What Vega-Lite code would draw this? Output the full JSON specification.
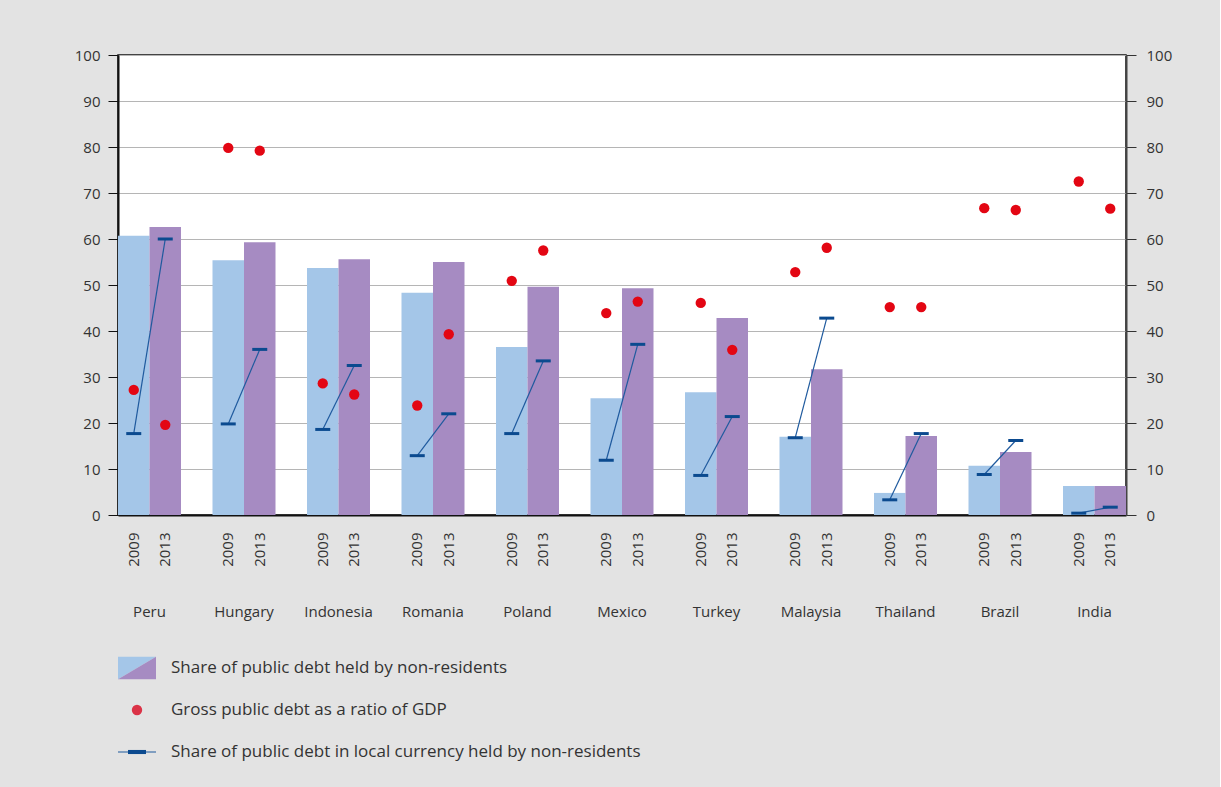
{
  "$schema": "https://vega.github.io/schema/vega-lite/v6.json",
  "background": "#e3e3e3",
  "padding": {"left": 73, "top": 47, "right": 47, "bottom": 20},
  "config": {"font": "Open Sans", "axis": {"labelFont": "Open Sans", "labelColor": "#333333", "labelFontSize": 15}},
  "spacing": 27,
  "vconcat": [
    {
      "width": 1008,
      "height": 460,
      "view": {"stroke": "#111111", "strokeWidth": 1.5, "fill": "#ffffff"},
      "data": {"values": [
        {"country": "Peru", "year": "2009", "share": 60.7, "gdp": 27.2, "local": 17.7},
        {"country": "Peru", "year": "2013", "share": 62.6, "gdp": 19.6, "local": 60.0},
        {"country": "Hungary", "year": "2009", "share": 55.4, "gdp": 79.8, "local": 19.8},
        {"country": "Hungary", "year": "2013", "share": 59.3, "gdp": 79.2, "local": 36.0},
        {"country": "Indonesia", "year": "2009", "share": 53.7, "gdp": 28.6, "local": 18.6},
        {"country": "Indonesia", "year": "2013", "share": 55.6, "gdp": 26.2, "local": 32.5},
        {"country": "Romania", "year": "2009", "share": 48.3, "gdp": 23.8, "local": 12.9},
        {"country": "Romania", "year": "2013", "share": 55.0, "gdp": 39.3, "local": 22.0},
        {"country": "Poland", "year": "2009", "share": 36.5, "gdp": 50.9, "local": 17.7},
        {"country": "Poland", "year": "2013", "share": 49.6, "gdp": 57.5, "local": 33.5},
        {"country": "Mexico", "year": "2009", "share": 25.4, "gdp": 43.9, "local": 11.9},
        {"country": "Mexico", "year": "2013", "share": 49.3, "gdp": 46.4, "local": 37.1},
        {"country": "Turkey", "year": "2009", "share": 26.7, "gdp": 46.1, "local": 8.6},
        {"country": "Turkey", "year": "2013", "share": 42.8, "gdp": 35.9, "local": 21.4},
        {"country": "Malaysia", "year": "2009", "share": 17.0, "gdp": 52.8, "local": 16.8},
        {"country": "Malaysia", "year": "2013", "share": 31.7, "gdp": 58.1, "local": 42.8},
        {"country": "Thailand", "year": "2009", "share": 4.8, "gdp": 45.2, "local": 3.3},
        {"country": "Thailand", "year": "2013", "share": 17.2, "gdp": 45.2, "local": 17.7},
        {"country": "Brazil", "year": "2009", "share": 10.7, "gdp": 66.7, "local": 8.8},
        {"country": "Brazil", "year": "2013", "share": 13.7, "gdp": 66.3, "local": 16.2},
        {"country": "India", "year": "2009", "share": 6.3, "gdp": 72.5, "local": 0.4},
        {"country": "India", "year": "2013", "share": 6.3, "gdp": 66.6, "local": 1.7}
      ]},
      "transform": [{"calculate": "datum.country + '|' + datum.year", "as": "slot"}],
      "layer": [
        {
          "mark": {"type": "bar"},
          "encoding": {
            "x": {"field": "slot", "type": "nominal", "sort": null,
              "scale": {"type": "band", "domain": ["Peru|2009","Peru|2013","g1","Hungary|2009","Hungary|2013","g2","Indonesia|2009","Indonesia|2013","g3","Romania|2009","Romania|2013","g4","Poland|2009","Poland|2013","g5","Mexico|2009","Mexico|2013","g6","Turkey|2009","Turkey|2013","g7","Malaysia|2009","Malaysia|2013","g8","Thailand|2009","Thailand|2013","g9","Brazil|2009","Brazil|2013","g10","India|2009","India|2013"], "paddingInner": 0, "paddingOuter": 0},
              "axis": {"orient": "bottom", "title": null, "labelExpr": "indexof(datum.value, '|') >= 0 ? split(datum.value, '|')[1] : ''", "labelAngle": 270, "ticks": false, "tickSize": 0, "labelPadding": 17, "domain": true, "domainColor": "#111111", "domainWidth": 2, "grid": false, "labelOverlap": false}},
            "y": {"field": "share", "type": "quantitative",
              "scale": {"domain": [0, 100], "nice": false},
              "axis": {"orient": "left", "title": null, "values": [0,10,20,30,40,50,60,70,80,90,100], "grid": true, "gridColor": "#b5b5b5", "gridWidth": 1, "tickSize": 10, "tickColor": "#111111", "domainColor": "#111111", "domainWidth": 2, "labelPadding": 8}},
            "color": {"field": "year", "type": "nominal", "scale": {"domain": ["2009", "2013"], "range": ["#a4c6e8", "#a68bc2"]}, "legend": null}
          }
        },
        {
          "mark": {"type": "line", "color": "#1f5a9e", "strokeWidth": 1.2},
          "encoding": {
            "x": {"field": "slot", "type": "nominal", "sort": null,
              "scale": {"type": "band", "domain": ["Peru|2009","Peru|2013","g1","Hungary|2009","Hungary|2013","g2","Indonesia|2009","Indonesia|2013","g3","Romania|2009","Romania|2013","g4","Poland|2009","Poland|2013","g5","Mexico|2009","Mexico|2013","g6","Turkey|2009","Turkey|2013","g7","Malaysia|2009","Malaysia|2013","g8","Thailand|2009","Thailand|2013","g9","Brazil|2009","Brazil|2013","g10","India|2009","India|2013"], "paddingInner": 0, "paddingOuter": 0},
              "axis": null},
            "y": {"field": "local", "type": "quantitative", "scale": {"domain": [0, 100], "nice": false}, "axis": null},
            "detail": {"field": "country", "type": "nominal"}
          }
        },
        {
          "mark": {"type": "tick", "color": "#0b4a8f", "size": 15, "thickness": 3, "opacity": 1},
          "encoding": {
            "x": {"field": "slot", "type": "nominal", "sort": null,
              "scale": {"type": "band", "domain": ["Peru|2009","Peru|2013","g1","Hungary|2009","Hungary|2013","g2","Indonesia|2009","Indonesia|2013","g3","Romania|2009","Romania|2013","g4","Poland|2009","Poland|2013","g5","Mexico|2009","Mexico|2013","g6","Turkey|2009","Turkey|2013","g7","Malaysia|2009","Malaysia|2013","g8","Thailand|2009","Thailand|2013","g9","Brazil|2009","Brazil|2013","g10","India|2009","India|2013"], "paddingInner": 0, "paddingOuter": 0},
              "axis": null},
            "y": {"field": "local", "type": "quantitative", "scale": {"domain": [0, 100], "nice": false}, "axis": null}
          }
        },
        {
          "mark": {"type": "circle", "color": "#e30613", "size": 107, "opacity": 1},
          "encoding": {
            "x": {"field": "slot", "type": "nominal", "sort": null,
              "scale": {"type": "band", "domain": ["Peru|2009","Peru|2013","g1","Hungary|2009","Hungary|2013","g2","Indonesia|2009","Indonesia|2013","g3","Romania|2009","Romania|2013","g4","Poland|2009","Poland|2013","g5","Mexico|2009","Mexico|2013","g6","Turkey|2009","Turkey|2013","g7","Malaysia|2009","Malaysia|2013","g8","Thailand|2009","Thailand|2013","g9","Brazil|2009","Brazil|2013","g10","India|2009","India|2013"], "paddingInner": 0, "paddingOuter": 0},
              "axis": null},
            "y": {"field": "gdp", "type": "quantitative", "scale": {"domain": [0, 100], "nice": false},
              "axis": {"orient": "right", "title": null, "values": [0,10,20,30,40,50,60,70,80,90,100], "grid": false, "tickSize": 10, "tickColor": "#333333", "domainColor": "#444444", "domainWidth": 2, "labelPadding": 10}}
          }
        },
        {
          "mark": {"type": "bar", "opacity": 0},
          "encoding": {
            "x": {"field": "country", "type": "nominal", "sort": null,
              "scale": {"type": "band", "domain": ["Peru","Hungary","Indonesia","Romania","Poland","Mexico","Turkey","Malaysia","Thailand","Brazil","India"], "paddingInner": 0.3333333, "paddingOuter": 0},
              "axis": {"orient": "bottom", "title": null, "labelAngle": 0, "ticks": false, "tickSize": 0, "domain": false, "grid": false, "labelPadding": 89}}
          }
        }
      ],
      "resolve": {"scale": {"x": "independent", "y": "independent"}, "axis": {"x": "independent", "y": "independent"}}
    },
    {
      "width": 600,
      "height": 126,
      "view": {"stroke": null},
      "layer": [
        {
          "data": {"values": [{"row": 0, "x": 19}]},
          "mark": {"type": "point", "filled": true, "size": 500, "opacity": 1, "strokeWidth": 0, "color": "#a4c6e8", "shape": "M-1.7,-1L1.7,-1L-1.7,1Z"},
          "encoding": {
            "x": {"field": "x", "type": "quantitative", "scale": {"domain": [0, 600]}, "axis": null},
            "y": {"field": "row", "type": "quantitative", "scale": {"domain": [-0.5, 2.5], "reverse": true}, "axis": null}
          }
        },
        {
          "data": {"values": [{"row": 0, "x": 19}]},
          "mark": {"type": "point", "filled": true, "size": 500, "opacity": 1, "strokeWidth": 0, "color": "#a68bc2", "shape": "M1.7,-1L1.7,1L-1.7,1Z"},
          "encoding": {
            "x": {"field": "x", "type": "quantitative", "scale": {"domain": [0, 600]}, "axis": null},
            "y": {"field": "row", "type": "quantitative", "scale": {"domain": [-0.5, 2.5], "reverse": true}, "axis": null}
          }
        },
        {
          "data": {"values": [{"row": 1, "x": 19}]},
          "mark": {"type": "circle", "size": 107, "opacity": 1, "color": "#db3347"},
          "encoding": {
            "x": {"field": "x", "type": "quantitative", "scale": {"domain": [0, 600]}, "axis": null},
            "y": {"field": "row", "type": "quantitative", "scale": {"domain": [-0.5, 2.5], "reverse": true}, "axis": null}
          }
        },
        {
          "data": {"values": [{"row": 2, "x": 0, "x2": 38}]},
          "mark": {"type": "rule", "color": "#1f5a9e", "strokeWidth": 1.2},
          "encoding": {
            "x": {"field": "x", "type": "quantitative", "scale": {"domain": [0, 600]}, "axis": null},
            "x2": {"field": "x2"},
            "y": {"field": "row", "type": "quantitative", "scale": {"domain": [-0.5, 2.5], "reverse": true}, "axis": null}
          }
        },
        {
          "data": {"values": [{"row": 2, "x": 19}]},
          "mark": {"type": "point", "filled": true, "size": 67, "opacity": 1, "strokeWidth": 0, "color": "#0b4a8f", "shape": "M-2.2,-0.5L2.2,-0.5L2.2,0.5L-2.2,0.5Z"},
          "encoding": {
            "x": {"field": "x", "type": "quantitative", "scale": {"domain": [0, 600]}, "axis": null},
            "y": {"field": "row", "type": "quantitative", "scale": {"domain": [-0.5, 2.5], "reverse": true}, "axis": null}
          }
        },
        {
          "data": {"values": [
            {"row": 0, "x": 53, "label": "Share of public debt held by non-residents"},
            {"row": 1, "x": 53, "label": "Gross public debt as a ratio of GDP"},
            {"row": 2, "x": 53, "label": "Share of public debt in local currency held by non-residents"}
          ]},
          "mark": {"type": "text", "align": "left", "baseline": "middle", "fontSize": 17, "color": "#333333", "font": "Open Sans"},
          "encoding": {
            "x": {"field": "x", "type": "quantitative", "scale": {"domain": [0, 600]}, "axis": null},
            "y": {"field": "row", "type": "quantitative", "scale": {"domain": [-0.5, 2.5], "reverse": true}, "axis": null},
            "text": {"field": "label"}
          }
        }
      ]
    }
  ]
}
